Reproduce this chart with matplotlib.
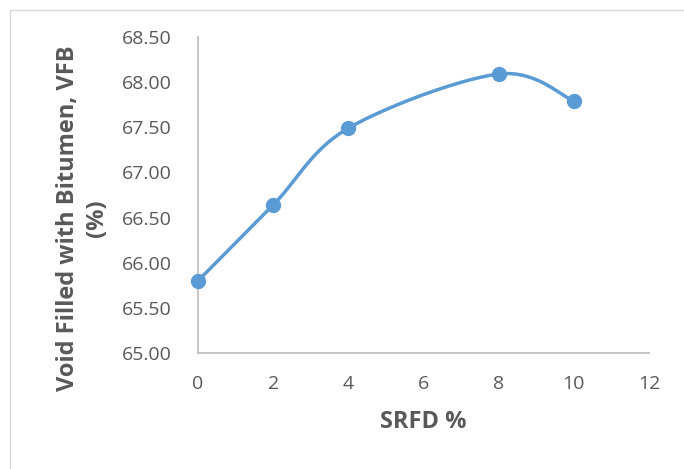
import numpy as np
import matplotlib
matplotlib.use("Agg")
import matplotlib.pyplot as plt
from matplotlib.patches import Rectangle

# data
srfd = [0, 2, 4, 8, 10]
vfb = [65.80, 66.64, 67.49, 68.09, 67.79]
x_ticks = [0, 2, 4, 6, 8, 10, 12]
y_ticks = [65.0, 65.5, 66.0, 66.5, 67.0, 67.5, 68.0, 68.5]

BLUE = "#5B9BD5"
GREY = "#595959"
AXIS = "#BFBFBF"


def smooth_curve(xs, ys, n=40):
    """Excel-style smoothed line (Catmull-Rom as cubic Bezier)"""
    pts = np.column_stack([xs, ys]).astype(float)
    out = []
    for i in range(len(pts) - 1):
        p0 = pts[i - 1] if i > 0 else pts[i]
        p1 = pts[i]
        p2 = pts[i + 1]
        p3 = pts[i + 2] if i + 2 < len(pts) else pts[i + 1]
        c1 = p1 + (p2 - p0) / 6.0
        c2 = p2 - (p3 - p1) / 6.0
        t = np.linspace(0, 1, n)[:, None]
        seg = ((1 - t) ** 3) * p1 + 3 * ((1 - t) ** 2) * t * c1 + 3 * (1 - t) * t ** 2 * c2 + t ** 3 * p2
        out.append(seg if i == 0 else seg[1:])
    out = np.vstack(out)
    return out[:, 0], out[:, 1]


plt.rcParams['font.family'] = ['Open Sans', 'DejaVu Sans']

fig = plt.figure(figsize=(6.84, 4.69), dpi=100)
ax = fig.add_axes([0.2895, 0.2473, 0.6593, 0.6738])

# light frame around the chart area
fig.patches.append(Rectangle((10 / 684, -0.1), 2, 1 - 10 / 469 + 0.1,
                             transform=fig.transFigure, fill=False,
                             edgecolor="#D9D9D9", linewidth=1.0))

sx, sy = smooth_curve(srfd, vfb)
ax.plot(sx, sy, color=BLUE, linewidth=2.5, solid_capstyle='round', clip_on=False)
ax.plot(srfd, vfb, 'o', color=BLUE, markersize=10, clip_on=False, zorder=5)

ax.set_xlim(0, 12)
ax.set_ylim(65, 68.5)
ax.set_xticks(x_ticks)
ax.set_yticks(y_ticks)
ax.set_yticklabels([f"{v:.2f}" for v in y_ticks])

for side in ['top', 'right']:
    ax.spines[side].set_visible(False)
for side in ['left', 'bottom']:
    ax.spines[side].set_color(AXIS)
    ax.spines[side].set_linewidth(1.3)

ax.tick_params(axis='both', length=0, labelsize=14, colors=GREY)
ax.tick_params(axis='x', pad=16)
ax.tick_params(axis='y', pad=19)

ax.set_xlabel('SRFD %', fontsize=17, fontweight='bold', color=GREY, labelpad=12)
ax.set_ylabel('Void Filled with Bitumen, VFB\n(%)', fontsize=17, fontweight='bold',
              color=GREY, linespacing=1.3)
ax.yaxis.set_label_coords(-0.197, 0.427)

fig.savefig('out.png', dpi=100)
